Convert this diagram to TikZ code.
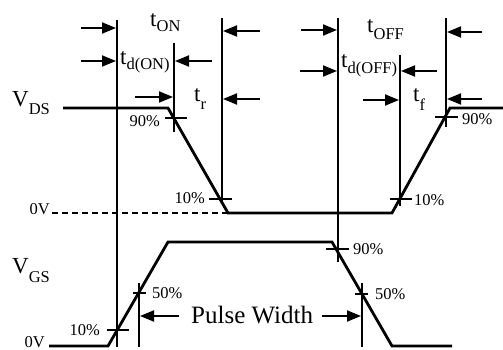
\documentclass[tikz,border=0pt]{standalone}
\usepackage{fontspec}
\setmainfont{Liberation Serif}
\usepackage{tikz}
\usetikzlibrary{arrows.meta}

\newcommand{\lowsub}[2][6pt]{\raisebox{-#1}{\fontsize{16.5}{17}\selectfont #2}}

\begin{document}
\begin{tikzpicture}[x=1pt, y=-1pt,
    wave/.style={line width=2.8pt, line join=miter},
    markline/.style={line width=1.7pt},
    dimarrow/.style={line width=1.9pt, -{Triangle[length=14pt,width=11pt]}},
    pct/.style={inner sep=0pt, font=\fontsize{16.5}{17}\selectfont},
    big/.style={inner sep=0pt, font=\fontsize{23}{23}\selectfont}]
    \useasboundingbox (0,0) rectangle (503,350);

    % Time marks
    \draw[markline] (117,20) -- (117,347);
    \draw[markline] (174,43) -- (174,132);
    \draw[markline] (222,18) -- (222,202);
    \draw[markline] (338,18) -- (338,262);
    \draw[markline] (400,55) -- (400,206);
    \draw[markline] (446,18) -- (446,127);
    \draw[markline] (139,283) -- (139,347);
    \draw[markline] (362,283) -- (362,347);

    % V_DS
    \node[big, anchor=base west] (vds) at (12,107) {V\lowsub[8pt]{DS}};
    \draw[wave] (63,108) -- (168,108) -- (228,213) -- (392,213) -- (450,108) -- (503,108);
    \node[pct, anchor=base east] (zds) at (50,214) {0V};
    \draw[line width=1.7pt, dash pattern=on 6pt off 4pt] (zds.base east) ++(2,-1) -- (228,213);

    % V_GS
    \node[big, anchor=base west] (vgs) at (12,273) {V\lowsub[9pt]{GS}};
    \draw[wave] (49,346) -- (108,346) -- (168,242) -- (332,242) -- (392,346) -- (452,346);
    \node[pct, anchor=base east] (zgs) at (45,347) {0V};

    % Level ticks
    \draw[markline] (165,118) -- (187,118);
    \node[pct, anchor=east] at (160,121) {90\%};
    \draw[markline] (209,199) -- (232,199);
    \node[pct, anchor=east] at (205,198) {10\%};
    \draw[markline] (390,199) -- (412,199);
    \node[pct, anchor=west] at (414,200) {10\%};
    \draw[markline] (435,117) -- (458,117);
    \node[pct, anchor=west] at (462,119) {90\%};
    \draw[markline] (107,330) -- (129,330);
    \node[pct, anchor=east] at (100,330) {10\%};
    \draw[markline] (133,293) -- (146,293);
    \node[pct, anchor=west] at (152,293) {50\%};
    \draw[markline] (326,249) -- (349,249);
    \node[pct, anchor=west] at (353,249) {90\%};
    \draw[markline] (355,294) -- (368,294);
    \node[pct, anchor=west] at (375,294) {50\%};

    % Turn-on times
    \node[big, anchor=base west] (ton) at (150,27) {t\lowsub[5pt]{ON}};
    \draw[dimarrow] (81,28) -- (116,28);
    \draw[dimarrow] (260,31) -- (223,31);
    \node[big, anchor=base west] (tdon) at (120,65) {t\lowsub[5pt]{d(ON)}};
    \draw[dimarrow] (81,61) -- (116,61);
    \draw[dimarrow] (212,61) -- (175,61);
    \node[big, anchor=base west] (tr) at (194,102) {t\lowsub[8pt]{r}};
    \draw[dimarrow] (135,97) -- (173,97);
    \draw[dimarrow] (260,99) -- (223,99);

    % Turn-off times
    \node[big, anchor=base west] (toff) at (367,33) {t\lowsub[7pt]{OFF}};
    \draw[dimarrow] (301,30) -- (337,30);
    \draw[dimarrow] (482,32) -- (447,32);
    \node[big, anchor=base west] (tdoff) at (341,68) {t\lowsub[6pt]{d(OFF)}};
    \draw[dimarrow] (300,71) -- (337,71);
    \draw[dimarrow] (437,71) -- (401,71);
    \node[big, anchor=base west] (tf) at (413,102) {t\lowsub[9pt]{f}};
    \draw[dimarrow] (363,100) -- (399,100);
    \draw[dimarrow] (482,99) -- (447,99);

    % Pulse width
    \node[inner sep=0pt, anchor=base west, font=\fontsize{25}{25}\selectfont] (pw) at (191,323) {Pulse Width};
    \draw[dimarrow] (179,316) -- (140,316);
    \draw[dimarrow] (322,316) -- (361,316);
\end{tikzpicture}
\end{document}
